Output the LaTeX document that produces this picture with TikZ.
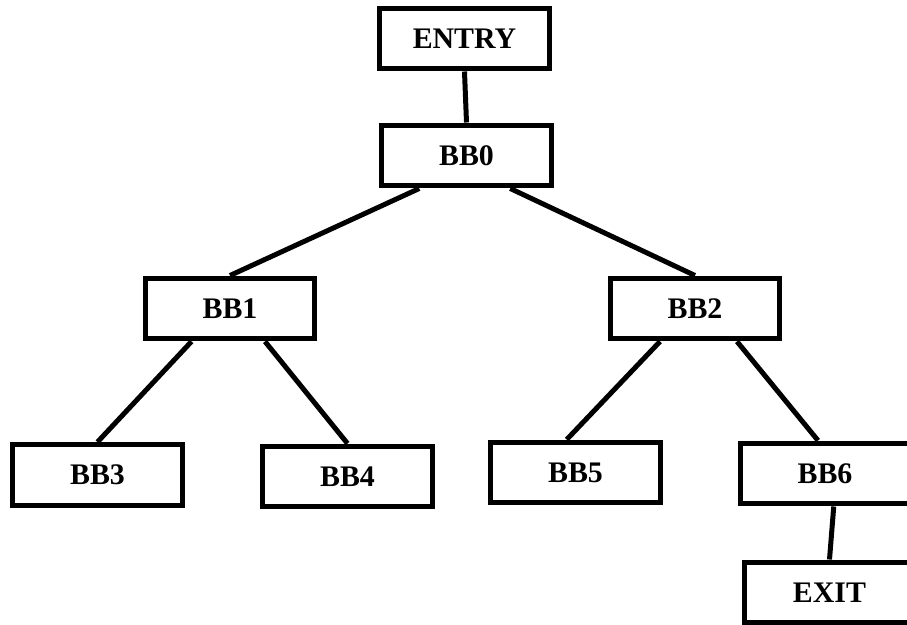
\documentclass[tikz,border=0pt]{standalone}
\usepackage{fontspec}
\setmainfont{Liberation Serif}
\usetikzlibrary{calc}
\tikzset{
  block/.style={draw, line width=0.1cm, inner sep=0pt, minimum width=3.4cm,
    minimum height=1.22cm, font=\fontsize{17}{20}\selectfont\bfseries},
  edge/.style={line width=0.1cm}
}
% point at a fraction #2 along the lower/upper side of node #1
\def\lowpt#1#2{($(#1.south west)!#2!(#1.south east)$)}
\def\uppt#1#2{($(#1.north west)!#2!(#1.north east)$)}

\begin{document}
\begin{tikzpicture}[x=0.02cm, y=-0.02cm]
			%%%%% START %%%%%
			\clip (0, 0) rectangle (907, 625);
			\fill[white] (0, 0) rectangle (907, 625);
			
			\node[block] (entry) at (464.5, 38.5) {ENTRY};
			\node[block] (bb0) at (466.5, 155.5) {BB0};
			
			\node[block] (bb1) at (230, 308.5) {BB1};
			\node[block] (bb2) at (695, 308.5) {BB2};
			
			\node[block] (bb3) at (97.5, 475) {BB3};
			\node[block] (bb4) at (347.5, 476.5) {BB4};
			\node[block] (bb5) at (575.5, 472.5) {BB5};
			\node[block] (bb6) at (825, 473.5) {BB6};
			
			\node[block] (exit) at (829.5, 592.5) {EXIT};
			
			\draw[edge] (entry.south) -- (bb0.north);
			\draw[edge] \lowpt{bb0}{0.23} -- (bb1.north);
			\draw[edge] \lowpt{bb0}{0.75} -- (bb2.north);
			\draw[edge] \lowpt{bb1}{0.28} -- (bb3.north);
			\draw[edge] \lowpt{bb1}{0.70} -- (bb4.north);
			\draw[edge] \lowpt{bb2}{0.30} -- \uppt{bb5}{0.45};
			\draw[edge] \lowpt{bb2}{0.74} -- \uppt{bb6}{0.46};
			\draw[edge] \lowpt{bb6}{0.55} -- (exit.north);
			%%%%% END %%%%%
\end{tikzpicture}
\end{document}
